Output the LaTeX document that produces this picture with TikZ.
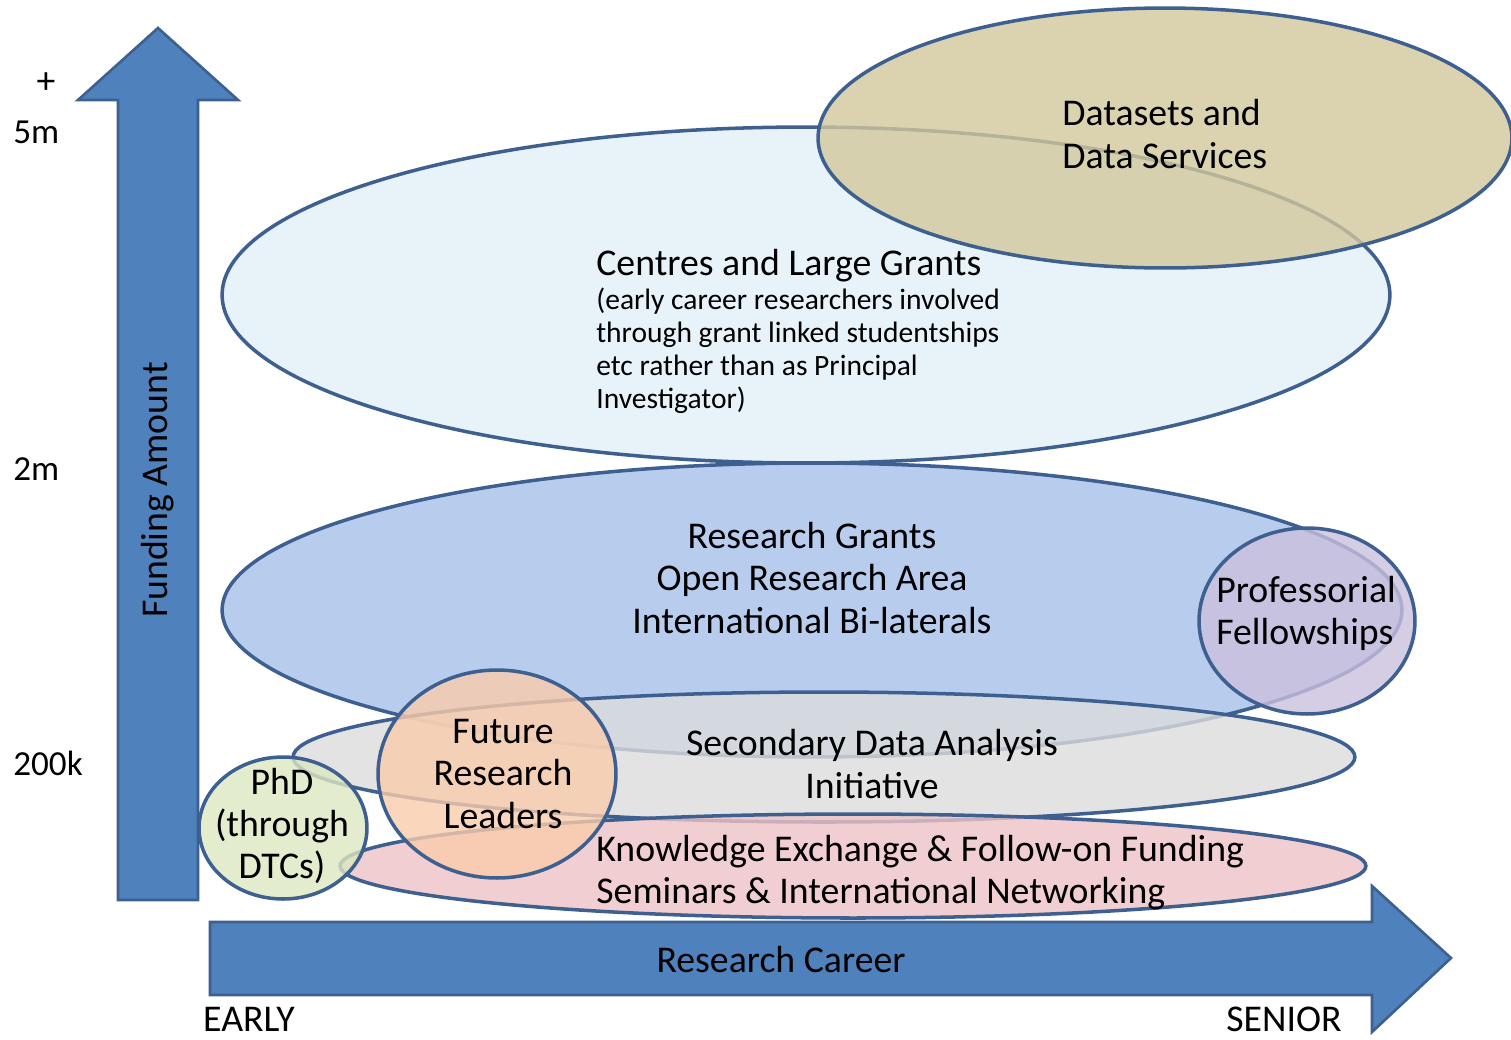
\documentclass[tikz,border=0pt]{standalone}
\usepackage{fontspec}
\setmainfont{Carlito}
\usepackage{xcolor}
\usepackage{tikz}
\usetikzlibrary{shapes.geometric, positioning}
\definecolor{edgeblue}{HTML}{3D6090}
\definecolor{arrowblue}{HTML}{4F81BD}
\definecolor{centresfill}{HTML}{E2F0F8}
\definecolor{datafill}{HTML}{D2C89C}
\definecolor{grantsfill}{HTML}{A6C1EA}
\definecolor{proffill}{HTML}{CBC0DD}
\definecolor{sdafill}{HTML}{DCDCDC}
\definecolor{kexfill}{HTML}{EEC2C5}
\definecolor{futurefill}{HTML}{F9CCAB}
\definecolor{phdfill}{HTML}{DCE8C1}
\tikzstyle{blob} = [ellipse, draw=edgeblue, line width=2pt, fill opacity=0.8, inner sep=0pt]
\tikzstyle{bigarrow} = [draw=edgeblue, fill=arrowblue, line width=1.5pt, line join=miter]

\begin{document}
\begin{tikzpicture}[x=0.02cm, y=-0.02cm,
		label/.style={inner sep=0pt, font=\fontsize{21.5}{24}\selectfont},
		amount/.style={inner sep=0pt, anchor=west, font=\fontsize{20}{24}\selectfont},
		title/.style={inner sep=0pt, align=center, font=\fontsize{21.5}{24}\selectfont},
		lefttitle/.style={inner sep=0pt, align=left, anchor=west, font=\fontsize{21.5}{24}\selectfont},
		note/.style={inner sep=0pt, align=left, font=\fontsize{16.8}{18.8}\selectfont}]
		
		\useasboundingbox (0,0) rectangle (1511,1039);
		
		% axes
		\draw[bigarrow] (118,900) -- (118,100) -- (78,100) -- (158,28) -- (238,100) -- (198,100) -- (198,900) -- cycle;
		\draw[bigarrow] (210,922) -- (1372,922) -- (1372,886) -- (1451,958) -- (1372,1032) -- (1372,995) -- (210,995) -- cycle;
		
		% funding schemes
		\node (centres) [blob, fill=centresfill, minimum width=23.36cm, minimum height=6.72cm] at (806,295) {};
		\node (datasets) [blob, fill=datafill, minimum width=13.88cm, minimum height=5.2cm] at (1165,138) {};
		\node (grants) [blob, fill=grantsfill, minimum width=23.6cm, minimum height=5.88cm] at (812,610) {};
		\node (prof) [blob, fill=proffill, minimum width=4.32cm, minimum height=3.72cm] at (1307,621) {};
		\node (sda) [blob, fill=sdafill, minimum width=21.24cm, minimum height=2.6cm] at (824,757) {};
		\node (kex) [blob, fill=kexfill, minimum width=20.52cm, minimum height=2.08cm] at (853,866) {};
		\node (future) [blob, fill=futurefill, minimum width=4.76cm, minimum height=4.16cm] at (497,774) {};
		\node (phd) [blob, fill=phdfill, minimum width=3.36cm, minimum height=2.84cm] at (283,828) {};
		
		% texts
		\node (datasetstext) [lefttitle] at (1062,134) {Datasets and \\ Data Services};
		\node (centrestitle) [lefttitle] at (596,266) {Centres and Large Grants};
		\node (centresnote) [note, below right=0.1cm and 0cm of centrestitle.south west] {(early career researchers involved \\ through grant linked studentships \\ etc rather than as Principal \\ Investigator)};
		\node (grantstext) [title] at (812,578) {Research Grants \\ Open Research Area \\ International Bi-laterals};
		\node (proftext) [lefttitle] at (1216,613) {Professorial \\ Fellowships};
		\node (sdatext) [title] at (872,764) {Secondary Data Analysis \\ Initiative};
		\node (kextext) [lefttitle] at (596,873) {Knowledge Exchange \& Follow-on Funding \\ Seminars \& International Networking};
		\node (futuretext) [title] at (503,774) {Future \\ Research \\ Leaders};
		\node (phdtext) [title] at (282,826) {PhD \\ (through \\ DTCs)};
		
		% axis labels
		\node (plus) [label] at (46,83) {+};
		\node (five) [amount] at (13,132) {5m};
		\node (two) [amount] at (13,469) {2m};
		\node (twok) [amount] at (13,763) {200k};
		\node (funding) [label, rotate=90] at (158,490) {Funding Amount};
		\node (career) [label] at (781,960) {Research Career};
		\node (early) [label, anchor=base] at (249,1031) {EARLY};
		\node (senior) [label, anchor=base] at (1284,1031) {SENIOR};
	\end{tikzpicture}
\end{document}
